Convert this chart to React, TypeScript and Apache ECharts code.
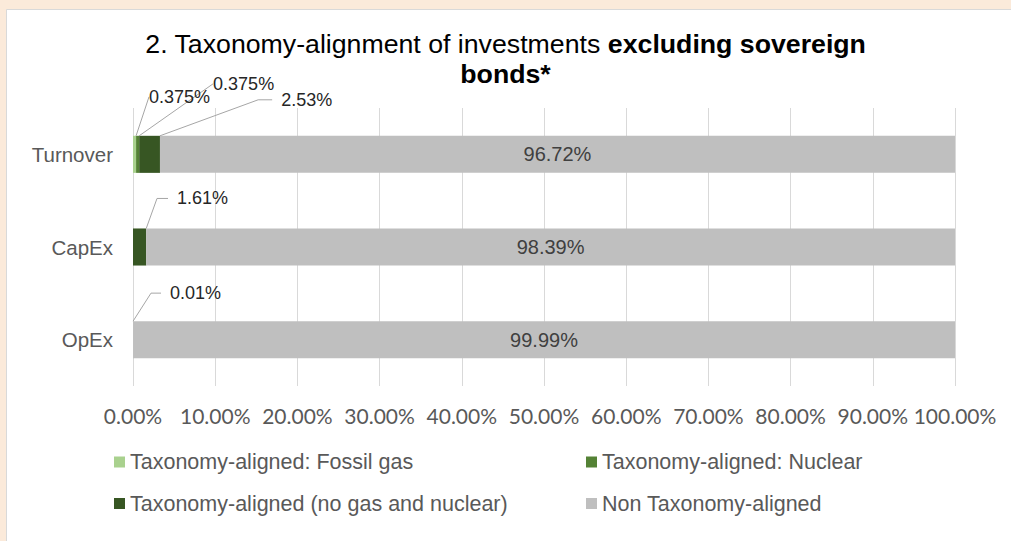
import React, { useEffect, useRef } from 'react';
import * as echarts from 'echarts';

// ---- data ----
const categories = ['Turnover', 'CapEx', 'OpEx'];
const seriesNames = [
  'Taxonomy-aligned: Fossil gas',
  'Taxonomy-aligned: Nuclear',
  'Taxonomy-aligned (no gas and nuclear)',
  'Non Taxonomy-aligned',
];
const fossilGas = [0.375, null, null];
const nuclear = [0.375, null, null];
const alignedNoGasNuclear = [2.53, 1.61, 0.01];
const nonAligned = [96.72, 98.39, 99.99];
const xMin = 0;
const xMax = 100;
const xStep = 10;

// ---- styles ----
const colors = ['#A9D18E', '#548235', '#375623', '#BFBFBF'];
const titleMain = '2. Taxonomy-alignment of investments ';
const titleBold1 = 'excluding sovereign';
const titleBold2 = 'bonds*';

// outside label placement relative to the bar's rect (per series, per category)
// dx: offset of the label box's left edge, pad: gap between leader line and text
type Place = { dx: number; dy: number; pad: number; len2: number };
const outsidePlacement: Record<number, Record<number, Place>> = {
  0: { 0: { dx: 16, dy: -39, pad: 0, len2: 0 } },
  1: { 0: { dx: 77, dy: -52, pad: 0, len2: 0 } },
  2: {
    0: { dx: 133, dy: -36, pad: 9, len2: 14 },
    1: { dx: 35, dy: -30, pad: 9, len2: 11 },
    2: { dx: 28, dy: -28, pad: 9, len2: 10 },
  },
};

function buildData(values: (number | null)[], sIdx: number) {
  return values.map((v, i) => {
    const p = outsidePlacement[sIdx] && outsidePlacement[sIdx][i];
    if (v == null) return { value: '-' };
    if (!p) return { value: v };
    return {
      value: v,
      label: {
        show: true,
        padding: [0, 0, 0, p.pad],
        backgroundColor: 'rgba(0,0,0,0)',
      },
      labelLine: { show: true, length2: p.len2 },
    };
  });
}

export default function App() {
  const ref = useRef<HTMLDivElement>(null);
  useEffect(() => {
    if (!ref.current) return;
    const chart = echarts.init(ref.current, undefined, { renderer: 'svg' });
    const outsideLabel = {
      show: true,
      position: 'top',
      formatter: (p: any) => `${p.value}%`,
      fontFamily: 'Liberation Sans',
      fontSize: 18,
      color: '#262626',
    };
    const outsideLayout = (sIdx: number) => (params: any) => {
      const p = outsidePlacement[sIdx] && outsidePlacement[sIdx][params.dataIndex];
      if (!p) return {};
      return {
        x: params.rect.x + p.dx,
        y: params.rect.y + p.dy,
        align: 'left',
        verticalAlign: 'middle',
      };
    };
    const labelLine = {
      show: true,
      showAbove: true,
      length2: 0,
      lineStyle: { color: '#A6A6A6', width: 1 },
    };
    const smallSeries = [fossilGas, nuclear, alignedNoGasNuclear].map((vals, sIdx) => ({
      name: seriesNames[sIdx],
      type: 'bar',
      stack: 'total',
      barWidth: '40%',
      itemStyle: { color: colors[sIdx] },
      data: buildData(vals, sIdx),
      label: outsideLabel,
      labelLine,
      labelLayout: outsideLayout(sIdx),
    }));
    const legendCommon = {
      orient: 'vertical',
      top: 451,
      padding: 0,
      itemWidth: 11,
      itemHeight: 11,
      itemGap: 19.5,
      icon: 'rect',
      textStyle: { fontFamily: 'Liberation Sans', fontSize: 21.5, color: '#595959' },
    };
    const option: any = {
      animation: false,
      backgroundColor: '#FBEADA',
      graphic: [
        {
          type: 'rect',
          z: -10,
          silent: true,
          shape: { x: 6.5, y: 9.5, width: 1010, height: 540 },
          style: { fill: '#FFFFFF', stroke: '#D9D9D9', lineWidth: 1 },
        },
      ],
      title: {
        text: `${titleMain}{b|${titleBold1}}\n{b|${titleBold2}}`,
        left: 'center',
        top: 29,
        padding: 0,
        textStyle: {
          fontFamily: 'Liberation Sans',
          fontSize: 26.7,
          fontWeight: 'normal',
          color: '#000000',
          lineHeight: 30,
          rich: {
            b: {
              fontFamily: 'Liberation Sans',
              fontSize: 26.7,
              fontWeight: 'bold',
              color: '#000000',
              lineHeight: 30,
            },
          },
        },
      },
      legend: [
        { ...legendCommon, data: [seriesNames[0], seriesNames[2]], left: 114 },
        { ...legendCommon, data: [seriesNames[1], seriesNames[3]], left: 586 },
      ],
      grid: { left: 133, right: 56, top: 108, bottom: 155, containLabel: false },
      xAxis: {
        type: 'value',
        min: xMin,
        max: xMax,
        interval: xStep,
        axisLine: { show: false },
        axisTick: { show: false },
        splitLine: { show: true, lineStyle: { color: '#D9D9D9', width: 1 } },
        axisLabel: {
          formatter: (v: number) => `${v.toFixed(2)}%`,
          fontFamily: 'Lato',
          fontSize: 21,
          color: '#595959',
          margin: 19,
        },
      },
      yAxis: {
        type: 'category',
        inverse: true,
        data: categories,
        axisLine: { show: false },
        axisTick: { show: false },
        axisLabel: {
          fontFamily: 'Liberation Sans',
          fontSize: 20.5,
          color: '#595959',
          margin: 20,
        },
      },
      series: [
        ...smallSeries,
        {
          name: seriesNames[3],
          type: 'bar',
          stack: 'total',
          barWidth: '40%',
          itemStyle: { color: colors[3] },
          data: nonAligned,
          label: {
            show: true,
            position: 'inside',
            formatter: (p: any) => `${p.value}%`,
            fontFamily: 'Liberation Sans',
            fontSize: 20,
            color: '#404040',
          },
        },
      ],
    };
    chart.setOption(option);
    return () => chart.dispose();
  }, []);
  return (
    <div
      ref={ref}
      style={{ position: 'fixed', left: 0, top: 0, width: 1011, height: 541 }}
    />
  );
}
